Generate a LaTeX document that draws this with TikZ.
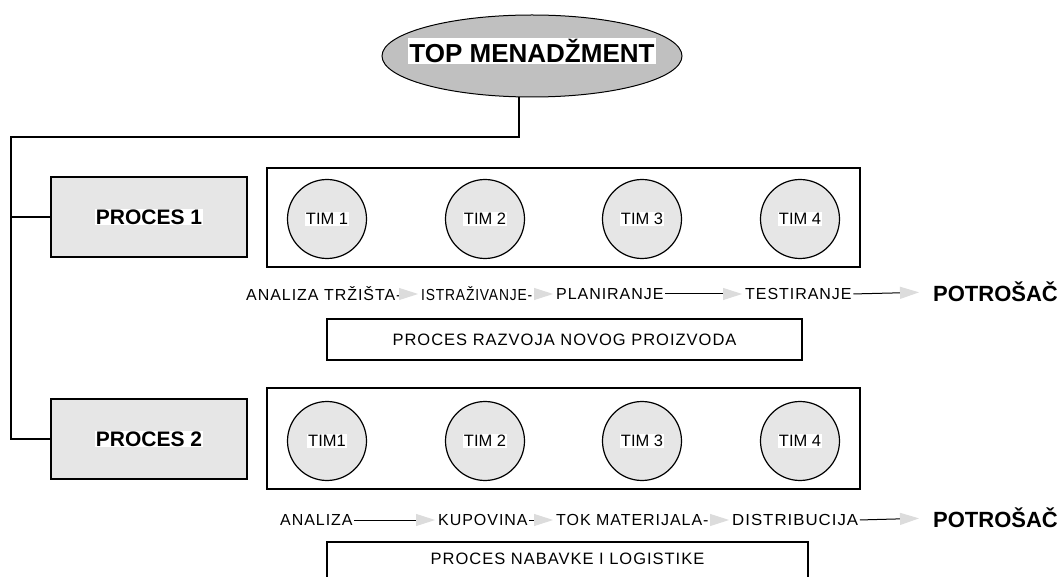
\documentclass[tikz,border=0pt]{standalone}
\usepackage{fontspec}
\setmainfont{Liberation Sans}
\newfontfamily\flowfont[LetterSpace=6]{Liberation Sans}
\usetikzlibrary{shapes.geometric,arrows.meta}
\definecolor{silverfill}{HTML}{C0C0C0}
\definecolor{boxfill}{HTML}{E6E6E6}
\definecolor{tipgray}{HTML}{DCDCDC}
\setlength{\fboxsep}{1pt}
\newcommand{\wb}[1]{\colorbox{white}{#1}}
\newcommand{\fitw}[2]{\resizebox{#1}{\height}{#2}}
\tikzset{
  x=1pt, y=-1pt,
  conn/.style={draw=black, line width=1.4pt},
  pbox/.style={draw=black, line width=1.4pt, fill=boxfill, minimum width=196, minimum height=80, inner sep=0,
     font=\bfseries\fontsize{21}{21}\selectfont},
  cont/.style={draw=black, line width=1.4pt, fill=white, minimum width=593, inner sep=0},
  tim/.style={circle, draw=black, line width=1.2pt, fill=boxfill, minimum size=79, inner sep=0,
     font=\fontsize{16.5}{16.5}\selectfont},
  flowtxt/.style={anchor=west, inner sep=0, font=\flowfont\fontsize{16}{16}\selectfont},
  endtxt/.style={anchor=west, inner sep=0, font=\bfseries\fontsize{22}{22}\selectfont},
  flow/.style={draw=black, line width=1pt, -{Triangle[length=19pt,width=12pt,color=tipgray]}, shorten <=1.5pt, shorten >=3pt},
  flowend/.style={flow, shorten >=14pt},
  namebox/.style={draw=black, line width=1.4pt, fill=white, inner sep=0, font=\flowfont\fontsize{16.5}{16.5}\selectfont}
}
\begin{document}
\begin{tikzpicture}
\clip (0,0) rectangle (1061,577);
\fill[white] (0,0) rectangle (1061,577);

% top
\node[ellipse, draw=black, line width=1pt, fill=silverfill, minimum width=300, minimum height=82, inner sep=0] (top) at (532,56) {};
\node[fill=white, inner sep=1pt, font=\bfseries\fontsize{26}{26}\selectfont] (toptxt) at (532,51) {TOP MENADŽMENT};

% process boxes
\node[pbox] (p1) at (149,217) {\wb{PROCES 1}};
\node[pbox] (p2) at (149,439) {\wb{PROCES 2}};

% tree connectors
\coordinate (j) at (519,137);
\coordinate (lt) at (11,137);
\draw[conn] (top.south -| j) -- (j) -- (lt) |- (p2.west);
\draw[conn] (lt |- p1.west) -- (p1.west);

% containers
\node[cont, minimum height=99] (c1) at (563.5,217.5) {};
\node[cont, minimum height=101] (c2) at (563.5,438.5) {};

% teams
\node[tim] (t11) at (327,219) {\wb{TIM 1}};
\node[tim] (t12) at (485,219) {\wb{TIM 2}};
\node[tim] (t13) at (642,219) {\wb{TIM 3}};
\node[tim] (t14) at (800,219) {\wb{TIM 4}};
\node[tim] (t21) at (327,441) {\wb{TIM1}};
\node[tim] (t22) at (485,441) {\wb{TIM 2}};
\node[tim] (t23) at (642,441) {\wb{TIM 3}};
\node[tim] (t24) at (800,441) {\wb{TIM 4}};

% flow 1
\node[flowtxt] (a1) at (246,294) {ANALIZA TRŽIŠTA-};
\node[flowtxt] (a2) at (421,294) {\fitw{111pt}{ISTRAŽIVANJE-}};
\node[flowtxt] (a3) at (556,294) {PLANIRANJE};
\node[flowtxt] (a4) at (745,294) {TESTIRANJE};
\node[endtxt] (a5) at (933,292) {POTROŠAČ};
\draw[flow] (a1.east) -- (a2.west);
\draw[flow] (a2.east) -- (a3.west);
\draw[flow] (a3.east) -- (a4.west);
\draw[flowend] (a4.east) -- (a5.west);

\node[namebox, minimum width=475, minimum height=41] (n1) at (564.5,339.5) {PROCES RAZVOJA NOVOG PROIZVODA};

% flow 2
\node[flowtxt] (b1) at (280,520) {ANALIZA};
\node[flowtxt] (b2) at (438,520) {KUPOVINA};
\node[flowtxt] (b3) at (556,520) {TOK MATERIJALA-};
\node[flowtxt] (b4) at (732,520) {\fitw{126pt}{DISTRIBUCIJA}};
\node[endtxt] (b5) at (933,518) {POTROŠAČ};
\draw[flow] (b1.east) -- (b2.west);
\draw[flow] (b2.east) -- (b3.west);
\draw[flow] (b3.east) -- (b4.west);
\draw[flowend] (b4.east) -- (b5.west);

\node[namebox, minimum width=481, minimum height=40, text depth=6pt] (n2) at (567.5,562) {PROCES NABAVKE I LOGISTIKE};
\end{tikzpicture}
\end{document}
